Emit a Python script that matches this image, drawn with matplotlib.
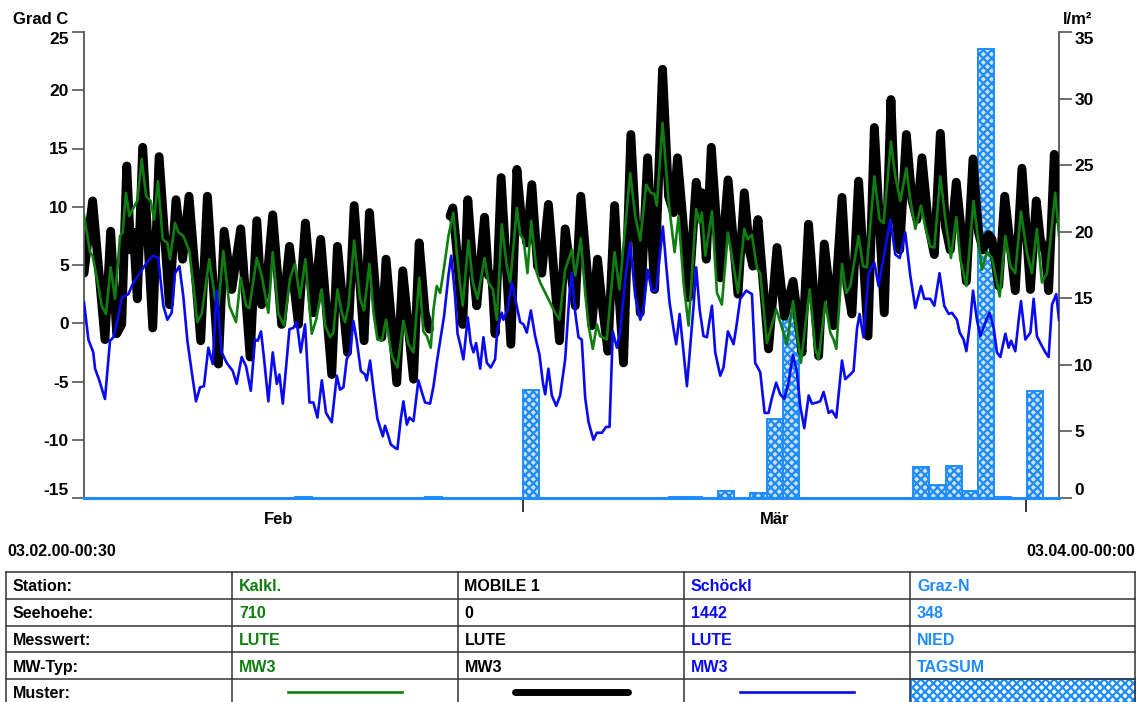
import datetime as dt
import numpy as np
import matplotlib
matplotlib.use("Agg")
import matplotlib.pyplot as plt
import matplotlib.dates as mdates
from matplotlib.patches import Rectangle
from matplotlib.lines import Line2D
from matplotlib.ticker import FixedLocator, FixedFormatter

plt.rcParams['font.family'] = ['Liberation Sans', 'DejaVu Sans']
plt.rcParams['font.weight'] = 'bold'
plt.rcParams['hatch.linewidth'] = 1.6

# ---------------- data ----------------
START = dt.datetime(2000, 2, 3, 0, 30)
END = dt.datetime(2000, 4, 3, 0, 0)

# Kalkl. (green) : days since start, temperature [Grad C]
kalkl_days = [0, 0.37, 0.53, 0.88, 1.09, 1.35, 1.64, 1.91, 2.22, 2.38,
              2.58, 2.79, 3.04, 3.28, 3.55, 3.82, 4.10, 4.31, 4.55, 4.84,
              5.13, 5.29, 5.60, 5.81, 6.11, 6.48, 6.73, 6.97, 7.24, 7.71,
              8.06, 8.27, 8.57, 8.94, 9.35, 9.64, 9.97, 10.17, 10.63, 10.93,
              11.34, 11.61, 11.96, 12.31, 12.68, 12.98, 13.29, 13.62, 14.01, 14.28,
              14.63, 14.83, 15.14, 15.34, 15.59, 15.86, 16.06, 16.27, 16.62, 16.98,
              17.23, 17.56, 17.81, 18.05, 18.32, 18.58, 18.93, 19.28, 19.65, 19.96,
              20.27, 20.62, 20.88, 21.09, 21.33, 21.50, 21.70, 21.91, 22.15, 22.42,
              22.72, 22.93, 23.10, 23.30, 23.65, 23.92, 24.21, 24.64, 24.88, 25.15,
              25.40, 25.70, 26.01, 26.22, 26.63, 26.83, 27.04, 27.28, 27.51, 27.86,
              28.06, 28.31, 28.98, 29.25, 29.60, 30.01, 30.22, 30.56, 30.83, 31.04,
              31.30, 31.55, 31.75, 32.16, 32.64, 32.94, 33.60, 33.91, 34.22, 34.58,
              34.87, 35.08, 35.24, 35.59, 35.96, 36.33, 36.58, 36.88, 37.19, 37.66,
              37.87, 38.01, 38.22, 38.63, 38.94, 39.24, 39.61, 39.92, 40.23, 40.62,
              40.82, 41.09, 41.40, 41.60, 42.01, 42.58, 42.83, 43.24, 43.62, 44.10,
              44.64, 44.98, 45.19, 45.60, 45.91, 46.11, 46.28, 46.63, 46.89, 47.14,
              47.34, 47.65, 47.92, 48.16, 48.62, 48.94, 49.19, 49.64, 49.91, 50.22,
              50.59, 50.83, 51.14, 51.49, 51.75, 52.06, 52.31, 52.68, 52.99, 53.33,
              53.66, 53.91, 54.28, 54.72, 55.03, 55.24, 55.55, 55.86, 56.33, 56.68,
              56.99, 57.29, 57.64, 58.00, 58.31, 58.62, 58.93, 59.24, 59.75, 59.98]
kalkl_temp = [9.3, 6.1, 5.8, 3.2, 1.5, 0.8, 4.8, 2.1, 7.5, 7.8,
              11.2, 9.2, 9.9, 10.5, 14.1, 10.9, 10.5, 8.9, 12.2, 7.2,
              6.9, 5.5, 8.6, 7.8, 7.5, 6.2, 3.2, 0.1, 0.8, 5.5,
              2.1, 1.5, 6.2, 1.5, 0.1, 3.9, 1.5, 1.3, 5.6, 4.1,
              0.9, 6.1, 0.8, -0.2, 3.9, 5.1, 2.2, 5.5, -0.9, 0.3,
              2.9, -0.2, -1.2, -0.8, 2.9, 0.9, 0.1, 1.5, 7.1, 2.1,
              1.1, 5.1, 0.9, -1.4, -1.5, 0.3, -2.8, -3.8, 0.2, -1.8,
              -2.5, 3.9, -0.7, -1.1, -2.1, 1.2, 3.2, 2.6, 4.8, 7.5,
              9.5, 6.1, 3.8, 1.5, 7.1, 3.5, 2.1, 5.6, 3.5, 2.9,
              0.3, 8.5, 4.9, 3.5, 9.9, 7.6, 7.2, 4.3, 8.8, 4.3,
              3.5, 2.8, 0.9, 0.3, 4.6, 6.3, 4.1, 7.3, 2.6, -0.2,
              -2.2, -0.1, -1.1, -1.4, 6.1, 2.9, 12.9, 9.2, 7.1, 11.9,
              11.2, 11.1, 10.1, 17.2, 10.5, 6.1, 9.2, 3.5, -0.2, 9.8,
              8.6, 9.5, 5.8, 9.6, 2.6, 1.6, 7.8, 5.2, 2.6, 8.1,
              7.2, 7.6, 4.7, 4.3, -1.7, 1.2, 0.1, -1.8, 1.9, -3.4,
              2.9, -2.2, -3.1, 1.8, -0.8, -1.4, -2.2, 5.1, 2.6, 3.2,
              4.9, 7.5, 4.9, 4.8, 12.6, 8.9, 8.6, 15.6, 12.6, 10.5,
              13.3, 10.6, 8.1, 10.1, 8.3, 6.6, 6.5, 12.6, 8.9, 5.6,
              9.1, 5.5, 3.2, 10.5, 6.9, 4.6, 6.1, 5.6, 2.3, 7.5,
              4.9, 4.3, 9.6, 6.1, 4.3, 8.1, 3.5, 4.3, 11.2, 7.5]

# MOBILE 1 (black)
mobile_days = [0, 0.53, 1.29, 1.64, 2.01, 2.32, 2.63, 2.87, 3.04, 3.28,
               3.61, 4.23, 4.62, 5.25, 5.66, 6.07, 6.46, 7.18, 7.59, 8.27,
               8.62, 9.09, 9.64, 10.22, 10.63, 10.93, 11.24, 11.61, 12.16, 12.64,
               13.19, 13.62, 14.11, 14.56, 15.24, 15.59, 16.21, 16.62, 17.23, 17.56,
               18.01, 18.32, 18.58, 19.24, 19.61, 20.27, 20.62, 20.98, 21.25, 21.9,
               22.52, 22.69, 22.94, 23.30, 23.61, 23.92, 24.16, 24.64, 24.88, 25.09,
               25.29, 25.66, 26.26, 26.63, 26.89, 27.10, 27.24, 27.55, 27.90, 28.16,
               28.57, 29.25, 29.60, 30.22, 30.56, 31.24, 31.59, 31.86, 32.23, 32.64,
               32.94, 33.19, 33.64, 34.22, 34.67, 35.10, 35.59, 35.96, 36.27, 36.51,
               36.84, 37.19, 37.66, 37.87, 38.01, 38.28, 38.59, 39.14, 39.62, 40.23,
               40.62, 40.95, 41.15, 41.46, 42.11, 42.63, 43.08, 43.62, 43.90, 44.17,
               44.57, 45.19, 45.54, 46.11, 46.63, 46.94, 47.24, 47.65, 48.23, 48.62,
               49.23, 49.64, 49.91, 50.18, 50.59, 50.93, 51.24, 51.55, 51.96, 52.31,
               52.68, 52.99, 53.29, 53.66, 54.28, 54.69, 55.03, 55.30, 55.65, 55.86,
               56.27, 56.64, 57.29, 57.70, 58.22, 58.58, 58.83, 59.14, 59.34, 59.69,
               59.98]
nan = float('nan')
mobile_temp = [4.3, 10.5, -1.4, 7.9, -0.9, -0.1, 13.5, 6.3, 7.8, 2.1,
               15.1, -0.4, 14.3, 1.6, 10.6, 5.5, 10.9, -1.5, 10.9, -3.5,
               7.9, 2.9, 8.1, -2.9, 8.8, 1.6, 3.5, 9.3, -0.1, 6.6,
               -0.1, 8.6, 0.9, 7.2, -4.4, 6.6, -2.5, 10.1, -1.5, 9.5,
               1.5, -1.2, 5.5, -5.1, 4.5, -4.8, 6.9, 0.9, -0.5, nan,
               9.2, 9.9, 6.1, -0.1, 10.6, 4.9, 1.5, 9.1, 4.1, 4.2,
               -0.9, 12.5, -1.8, 13.2, 9.2, 8.3, 6.9, 11.9, 4.9, 4.3,
               10.2, -1.5, 8.1, 1.5, 10.9, -0.2, 5.5, 1.8, -2.4, 10.1,
               1.8, -3.4, 16.2, 0.9, 14.2, 2.9, 21.8, 10.9, 9.5, 14.2,
               8.9, 2.2, 12.1, 10.1, 11.2, 5.5, 15.1, 3.9, 12.3, 2.5,
               11.2, 6.1, 4.9, 8.9, -2.2, 6.5, 0.6, 3.6, 0.6, -2.5,
               8.5, -2.8, 6.8, -0.2, 10.8, 3.2, 0.8, 12.2, -1.1, 16.8,
               0.9, 19.2, 9.5, 6.3, 16.2, 10.6, 8.9, 14.2, 8.3, 5.9,
               16.3, 8.3, 6.3, 12.1, 3.6, 14.1, 7.8, 6.3, 7.6, 7.2,
               3.2, 10.9, 2.8, 13.3, 2.9, 10.5, 7.2, 6.1, 2.8, 14.5,
               8.9]

# Schöckl (blue)
schoeckl_days = [0, 0.27, 0.57, 0.68, 0.94, 1.29, 1.60, 1.81, 2.05, 2.32,
                 2.73, 3.04, 3.34, 3.86, 4.23, 4.57, 4.88, 5.13, 5.39, 5.60,
                 5.87, 6.11, 6.36, 6.63, 6.89, 7.14, 7.38, 7.65, 7.92, 8.16,
                 8.47, 8.78, 9.15, 9.39, 9.70, 9.97, 10.26, 10.52, 10.69, 10.89,
                 11.08, 11.34, 11.61, 11.86, 12.02, 12.23, 12.64, 12.88, 13.09, 13.33,
                 13.60, 13.87, 14.11, 14.36, 14.63, 14.89, 15.24, 15.55, 15.75, 15.96,
                 16.16, 16.37, 16.57, 16.78, 17.03, 17.29, 17.39, 17.60, 17.81, 18.05,
                 18.38, 18.52, 18.73, 18.87, 19.14, 19.28, 19.49, 19.65, 19.86, 20.02,
                 20.27, 20.57, 20.78, 20.98, 21.29, 21.50, 21.70, 21.91, 22.15, 22.42,
                 22.59, 22.83, 22.98, 23.14, 23.34, 23.61, 23.79, 23.96, 24.12, 24.37,
                 24.57, 24.78, 25.02, 25.29, 25.43, 25.70, 25.81, 26.05, 26.32, 26.83,
                 27.04, 27.24, 27.49, 27.75, 28.02, 28.23, 28.37, 28.57, 28.78, 29.05,
                 29.29, 29.60, 29.87, 30.01, 30.22, 30.42, 30.62, 30.83, 31.04, 31.34,
                 31.55, 31.86, 32.12, 32.33, 32.53, 32.78, 32.99, 33.29, 33.60, 33.91,
                 34.22, 34.42, 34.67, 34.93, 35.20, 35.45, 35.61, 35.82, 36.02, 36.27,
                 36.43, 36.64, 36.84, 37.09, 37.33, 37.50, 37.66, 37.87, 38.11, 38.32,
                 38.63, 38.83, 39.14, 39.34, 39.61, 39.96, 40.12, 40.37, 40.74, 41.09,
                 41.29, 41.60, 41.87, 42.11, 42.32, 42.58, 42.83, 43.08, 43.34, 43.61,
                 43.86, 44.06, 44.31, 44.58, 44.78, 45.09, 45.29, 45.50, 45.81, 46.01,
                 46.28, 46.63, 46.83, 47.14, 47.34, 47.55, 47.71, 47.95, 48.27, 48.62,
                 48.88, 49.60, 49.91, 50.18, 50.52, 50.83, 51.14, 51.49, 51.69, 52.06,
                 52.31, 52.63, 52.92, 53.19, 53.39, 53.70, 53.87, 54.11, 54.28, 54.52,
                 54.69, 54.93, 55.14, 55.51, 55.71, 55.96, 56.16, 56.37, 56.68, 56.88,
                 57.03, 57.29, 57.50, 57.64, 57.91, 58.22, 58.42, 58.62, 58.83, 59.14,
                 59.34, 59.55, 59.81, 59.98]
schoeckl_temp = [1.8, -1.4, -2.5, -3.9, -4.9, -6.5, -1.5, -1.2, 0.2, 2.2,
                 2.5, 3.5, 4.1, 5.2, 5.8, 5.6, 1.5, 0.3, 0.9, 4.3,
                 4.9, 2.3, -1.5, -4.2, -6.7, -5.5, -5.4, -2.1, -3.5, 2.8,
                 -2.5, -3.4, -4.1, -5.2, -2.9, -3.7, -5.8, -1.4, -1.5, -0.7,
                 -3.1, -6.7, -2.5, -5.2, -4.4, -6.9, -0.5, -0.4, 0.1, -2.5,
                 -0.1, -6.8, -6.8, -8.1, -4.9, -7.7, -8.5, -4.5, -5.7, -5.5,
                 -3.1, -2.5, 0.2, -1.5, -4.1, -4.4, -4.9, -3.2, -5.7, -8.2,
                 -9.7, -8.8, -9.7, -10.4, -10.7, -10.8, -8.2, -6.7, -8.7, -8.1,
                 -8.4, -4.9, -5.9, -6.8, -6.9, -5.4, -3.4, -1.5, 0.6, 4.1,
                 5.8, 2.3, -0.9, -1.8, -3.1, 0.5, -1.7, -2.5, -1.7, -3.9,
                 -1.2, -3.4, -3.8, -3.1, -0.5, 0.9, 0.3, 1.2, 3.5, 0.1,
                 -0.1, -0.8, 1.1, -1.1, -2.7, -5.1, -6.1, -3.9, -6.2, -7.1,
                 -6.2, -3.1, 2.6, 4.3, 0.9, -1.2, -1.4, -6.4, -8.5, -10.0,
                 -9.4, -9.4, -8.9, -8.9, -0.7, -2.1, -0.7, 3.8, 6.9, 2.3,
                 0.3, 1.2, 4.6, 2.8, 2.8, 6.1, 8.3, 4.9, 1.8, -0.5,
                 -1.8, 0.8, -1.9, -5.4, -1.4, 1.5, 4.8, 1.2, -1.1, -1.2,
                 1.5, -2.5, -4.5, -3.8, -0.7, -1.8, -0.4, 2.1, 2.8, 2.5,
                 -3.4, -4.2, -7.7, -7.7, -6.4, -5.1, -6.1, -6.5, -5.1, -2.7,
                 -4.2, -7.1, -9.0, -6.2, -6.9, -6.8, -6.7, -5.9, -7.7, -7.5,
                 -8.1, -3.2, -4.8, -4.4, -4.1, -0.5, 0.8, -1.2, 4.3, 5.2,
                 3.2, 8.9, 5.9, 5.6, 7.8, 4.1, 1.3, 3.2, 2.1, 2.1,
                 1.5, 4.3, 1.5, 0.8, 0.9, 0.3, -0.8, -1.4, -2.4, 0.2,
                 2.8, 0.3, -1.1, 0.3, 0.9, -0.4, -2.5, -2.9, -0.9, -2.1,
                 -1.5, -2.4, 0.3, 1.9, -1.4, -0.8, 2.1, -1.1, -1.7, -2.5,
                 -2.9, 1.6, 2.5, 0.3]

# Graz-N daily precipitation sums [l/m²], one value per day from 03.02.
graz_precip = [0, 0, 0, 0, 0, 0, 0, 0, 0, 0,
               0, 0, 0, 0.1, 0, 0, 0, 0, 0, 0,
               0, 0.1, 0, 0, 0, 0, 0, 8.1, 0, 0,
               0, 0, 0, 0, 0, 0, 0.1, 0.1, 0, 0.5,
               0, 0.4, 5.9, 13.9, 0, 0, 0, 0, 0, 0,
               0, 2.3, 1.0, 2.4, 0.5, 33.7, 0.1, 0, 8.0, 0]

left_ticks = [-15, -10, -5, 0, 5, 10, 15, 20, 25]
right_ticks = [0, 5, 10, 15, 20, 25, 30, 35]
month_labels = ['Feb', 'Mär']

row_labels = ['Station:', 'Seehoehe:', 'Messwert:', 'MW-Typ:', 'Muster:']
stations = ['Kalkl.', 'MOBILE 1', 'Schöckl', 'Graz-N']
heights = ['710', '0', '1442', '348']
messwert = ['LUTE', 'LUTE', 'LUTE', 'NIED']
mwtyp = ['MW3', 'MW3', 'MW3', 'TAGSUM']

# ---------------- style ----------------
GREEN = '#0f7d0f'
BLACK = '#000000'
BLUE = '#0a0af0'
LBLUE = '#1e8cff'
BARFACE = '#cfe3da'
SPINE = '#555555'

W, H = 1136, 702
fig = plt.figure(figsize=(W / 100, H / 100), dpi=100)


def fx(px):
    return px / W


def fy(py):
    return 1 - py / H


ax_l, ax_r, ax_t, ax_b = 84, 1059, 32, 498
ax = fig.add_axes([fx(ax_l), fy(ax_b), fx(ax_r - ax_l), (ax_b - ax_t) / H])
ax2 = ax.twinx()
ax.set_zorder(2)
ax2.set_zorder(1)
ax.patch.set_visible(False)

t0 = mdates.date2num(START)
t1 = mdates.date2num(END)

# bars (precipitation) on right axis
bar_x = [t0 + i for i in range(len(graz_precip))]
ax2.bar(bar_x, graz_precip, width=1.0, align='edge', facecolor=BARFACE,
        edgecolor=LBLUE, linewidth=1.4, hatch='xxxx', zorder=2)

# temperature lines on left axis
ax.plot(t0 + np.array(mobile_days), mobile_temp, color=BLACK, lw=6.4,
        solid_joinstyle='round', solid_capstyle='round', zorder=2)
ax.plot(t0 + np.array(kalkl_days), kalkl_temp, color=GREEN, lw=1.9,
        solid_joinstyle='round', zorder=3)
ax.plot(t0 + np.array(schoeckl_days), schoeckl_temp, color=BLUE, lw=1.9,
        solid_joinstyle='round', zorder=4)

ax.set_xlim(t0, t1)
ax.set_ylim(-15, 25)
ax2.set_ylim(0, 35)

# spines
for a in (ax, ax2):
    a.spines['top'].set_visible(False)
ax.spines['right'].set_visible(False)
ax2.spines['left'].set_visible(False)
ax2.spines['bottom'].set_visible(False)
ax.spines['left'].set_color(SPINE)
ax.spines['left'].set_linewidth(1.3)
ax2.spines['right'].set_color(SPINE)
ax2.spines['right'].set_linewidth(1.3)
ax.spines['bottom'].set_color(LBLUE)
ax.spines['bottom'].set_linewidth(2.2)

# y ticks
ax.set_yticks(left_ticks)
ax.set_yticklabels([str(v) for v in left_ticks])
ax2.set_yticks(right_ticks)
ax2.set_yticklabels([str(v) for v in right_ticks])
ax.tick_params(axis='y', direction='out', length=9, width=1.2, color=SPINE,
               pad=2, labelsize=12.5)
ax2.tick_params(axis='y', direction='out', length=9, width=1.2, color=SPINE,
                pad=2, labelsize=12.5)
for a in (ax, ax2):
    ticks = a.yaxis.get_major_ticks()
    ticks[0].label1.set_va('bottom')
    ticks[0].label2.set_va('bottom')
    ticks[-1].label1.set_va('top')
    ticks[-1].label2.set_va('top')

# x ticks: month boundaries (major), month names (minor)
major = [mdates.date2num(dt.datetime(2000, 3, 1)), mdates.date2num(dt.datetime(2000, 4, 1))]
minor = [mdates.date2num(dt.datetime(2000, 2, 15)), mdates.date2num(dt.datetime(2000, 3, 16, 12))]
ax.xaxis.set_major_locator(FixedLocator(major))
ax.xaxis.set_major_formatter(FixedFormatter(['', '']))
ax.xaxis.set_minor_locator(FixedLocator(minor))
ax.xaxis.set_minor_formatter(FixedFormatter(month_labels))
ax.tick_params(axis='x', which='major', direction='out', length=10, width=1.1,
               color='black')
ax.tick_params(axis='x', which='minor', length=0, pad=10, labelsize=12)

# axis unit labels
fig.text(fx(13), fy(20), 'Grad C', ha='left', va='center', fontsize=12, fontweight='bold')
fig.text(fx(1063), fy(20), 'l/m²', ha='left', va='center', fontsize=12, fontweight='bold')

# time range labels
fig.text(fx(7), fy(551), START.strftime('%d.%m.%y-%H:%M'), ha='left', va='center',
         fontsize=11.5, fontweight='bold')
fig.text(fx(1135), fy(551), END.strftime('%d.%m.%y-%H:%M'), ha='right', va='center',
         fontsize=11.5, fontweight='bold')

# ---------------- table ----------------
col_x = [6, 232, 457.5, 684, 910, 1135]
row_y = [572, 598.5, 625.5, 652.3, 679, 706]
line_col = '#333333'
for yv in row_y[:-1]:
    fig.add_artist(Line2D([fx(col_x[0]), fx(col_x[-1])], [fy(yv), fy(yv)],
                          color=line_col, lw=1.1))
for xv in col_x:
    fig.add_artist(Line2D([fx(xv), fx(xv)], [fy(row_y[0]), fy(702)],
                          color=line_col, lw=1.1))

col_colors = [GREEN, BLACK, BLUE, LBLUE]
rows = [stations, heights, messwert, mwtyp]
for r, lab in enumerate(row_labels):
    yc = (row_y[r] + row_y[r + 1]) / 2 + 1.5
    fig.text(fx(col_x[0] + 7), fy(yc), lab, ha='left', va='center',
             fontsize=11.5, fontweight='bold', color='black')
    if r < 4:
        for c in range(4):
            fig.text(fx(col_x[c + 1] + 7), fy(yc), rows[r][c], ha='left', va='center',
                     fontsize=11.5, fontweight='bold', color=col_colors[c])

# Muster row swatches
ym = 692
fig.add_artist(Line2D([fx(288), fx(402)], [fy(ym), fy(ym)], color=GREEN, lw=1.9))
fig.add_artist(Line2D([fx(515), fx(628)], [fy(ym), fy(ym)], color=BLACK, lw=5,
                      solid_capstyle='round'))
fig.add_artist(Line2D([fx(740), fx(854)], [fy(ym), fy(ym)], color=BLUE, lw=1.9))
fig.add_artist(Rectangle((fx(911), fy(706)), fx(1136 - 911), (706 - 679) / H,
                         facecolor='white', edgecolor=LBLUE, hatch='xxxx', lw=1.4))

fig.savefig('out.png', dpi=100)
